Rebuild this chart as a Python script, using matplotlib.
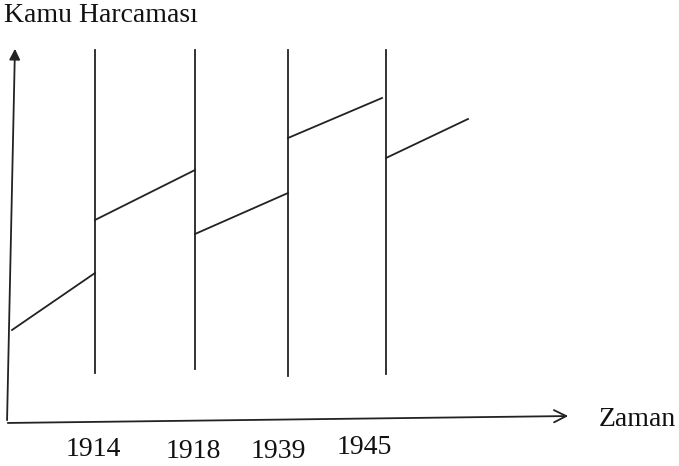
import matplotlib.pyplot as plt

# Schematic of the displacement effect (Peacock-Wiseman)
years = ["1914", "1918", "1939", "1945"]
break_x = [95, 195, 288, 386]          # position of each war year on the time axis
break_bottom = [93, 97, 90, 92]
break_top = 416
label_x = [93, 193, 278, 364]
label_y = [16, 14, 14, 18]

# spending trend segments between breaks
seg_x0 = [12, 95, 195, 288, 386]
seg_x1 = [95, 195, 288, 382, 468]
seg_y0 = [136, 246, 232, 328, 308]
seg_y1 = [193, 296, 273, 368, 347]

plt.rcParams['font.family'] = ['Liberation Serif', 'DejaVu Serif']

fig = plt.figure(figsize=(6.79, 4.66), dpi=100)
ax = fig.add_axes([0, 0, 1, 1])
ax.set_xlim(0, 679)
ax.set_ylim(0, 466)
ax.axis('off')

col = '#222222'
lw = 1.3

# axes with arrows
ax.annotate('', xy=(15, 420), xytext=(7, 43),
            arrowprops=dict(arrowstyle='-|>', color=col, lw=lw, mutation_scale=16))
ax.annotate('', xy=(571, 50), xytext=(5, 43),
            arrowprops=dict(arrowstyle='->', color=col, lw=lw, mutation_scale=22))

# war-year vertical lines
for x, b in zip(break_x, break_bottom):
    ax.plot([x, x], [b, break_top], color=col, lw=lw)

# spending segments
for x0, x1, y0, y1 in zip(seg_x0, seg_x1, seg_y0, seg_y1):
    ax.plot([x0, x1], [y0, y1], color=col, lw=lw)

for t, x, y in zip(years, label_x, label_y):
    ax.text(x, y, t, ha='center', va='center', fontsize=20, color='#111111')

ax.text(4, 450, "Kamu Harcaması", ha='left', va='center', fontsize=20, color='#111111')
ax.text(599, 46, "Zaman", ha='left', va='center', fontsize=20, color='#111111')

fig.savefig('out.png', dpi=100)
